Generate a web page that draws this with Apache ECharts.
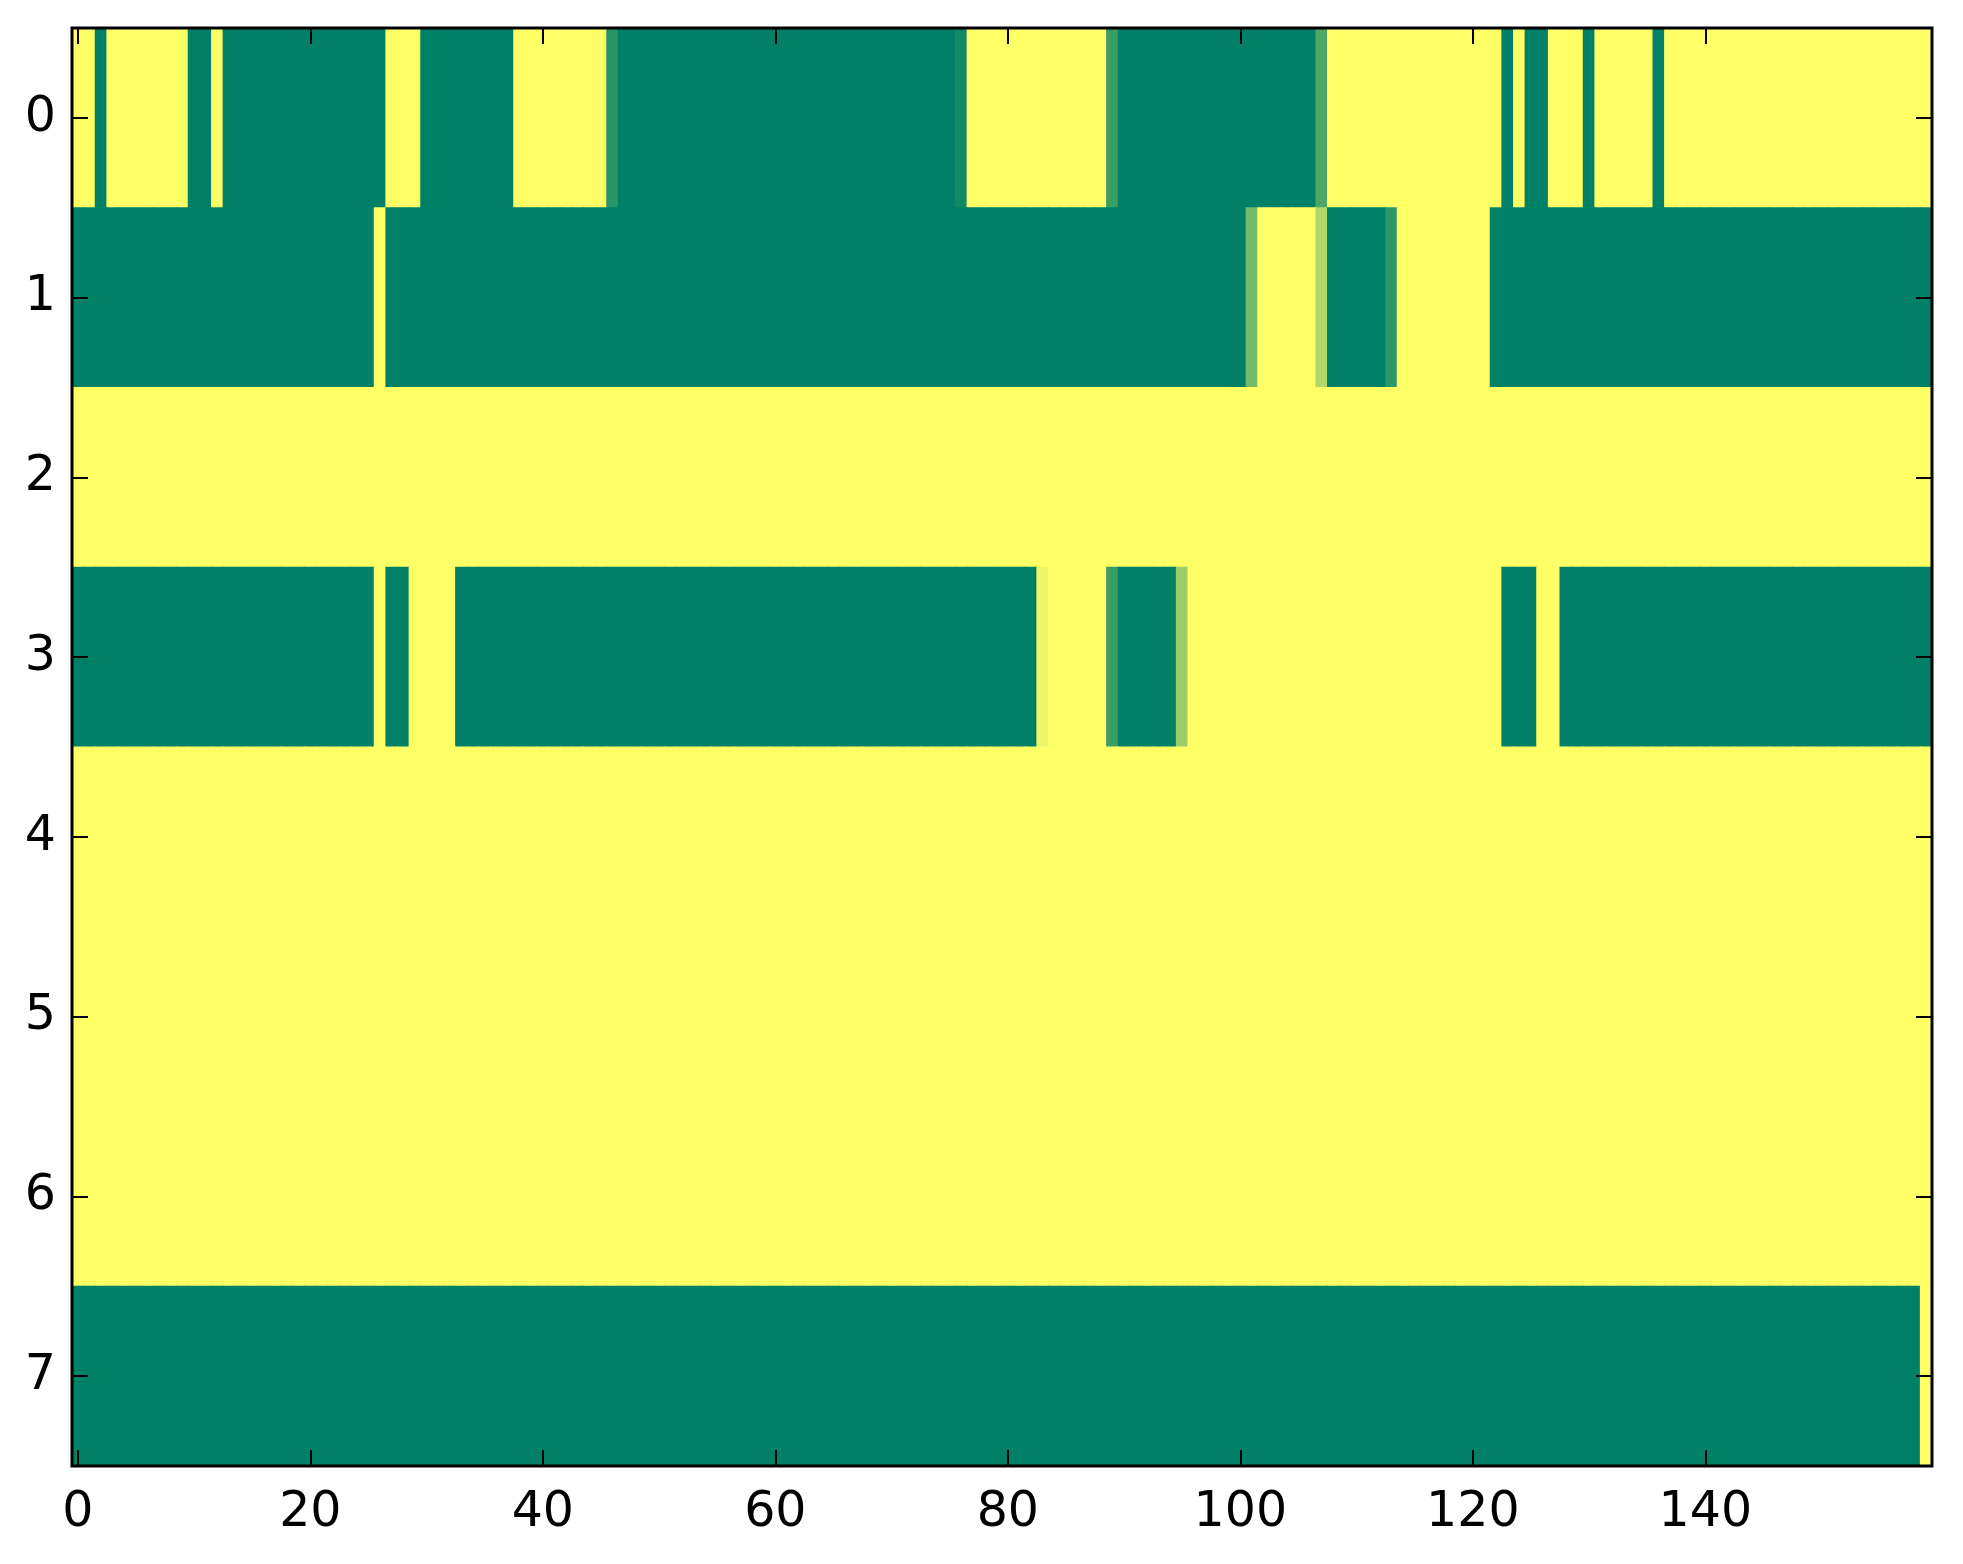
<!DOCTYPE html>
<html><head><meta charset="utf-8">
<script src="https://cdn.jsdelivr.net/npm/echarts@6/dist/echarts.min.js"></script>
<style>html,body{margin:0;padding:0;background:#fff}#c{width:1963px;height:1564px}</style>
</head><body><div id="c"></div>
<script>
// x categories: column indices 0..159
const xCategories = Array.from({length: 160}, (_, i) => String(i));
const rowLabels = ['0', '1', '2', '3', '4', '5', '6', '7'];
const xTickLabels = ['0', '20', '40', '60', '80', '100', '120', '140'];

// Each row written as runs: [value, number of consecutive columns]
const row0Runs = [[1,2],[0,1],[1,7],[0,2],[1,1],[0,14],[1,3],[0,8],[1,8],[0.16,1],[0,29],[0.07,1],[1,12],[0.23,1],[0,17],[0.31,1],[1,15],[0,1],[1,1],[0,2],[1,3],[0,1],[1,5],[0,1],[1,23]];
const row1Runs = [[0,26],[1,1],[0,74],[0.45,1],[1,5],[0.69,1],[0,5],[0.17,1],[1,8],[0,38]];
const row2Runs = [[1,160]];
const row3Runs = [[0,26],[1,1],[0,2],[1,4],[0,50],[0.93,1],[1,5],[0.23,1],[0,5],[0.61,1],[1,27],[0,3],[1,2],[0,32]];
const row4Runs = [[1,160]];
const row5Runs = [[1,160]];
const row6Runs = [[1,160]];
const row7Runs = [[0,159],[1,1]];

function expand(runs) {
  const out = [];
  runs.forEach(([v, n]) => { for (let i = 0; i < n; i++) out.push(v); });
  return out;
}
const rows = [row0Runs, row1Runs, row2Runs, row3Runs, row4Runs, row5Runs, row6Runs, row7Runs].map(expand);
const data = [];
rows.forEach((r, y) => r.forEach((v, x) => data.push([x, y, v])));

const FONT = 'DejaVu Sans';
const tickFn = (i, v) => xTickLabels.indexOf(String(v)) >= 0;

function xAxisDef(pos, labels) {
  return {
    type: 'category', data: xCategories, position: pos, boundaryGap: true, z: 10,
    axisLine: {show: false},
    axisTick: {show: true, inside: true, length: 16, alignWithLabel: true, interval: tickFn,
               lineStyle: {color: '#000', width: 2}},
    axisLabel: {show: labels, interval: tickFn, fontSize: 49, color: '#000', fontFamily: FONT, margin: 23},
    splitLine: {show: false}
  };
}
function yAxisDef(pos, labels) {
  return {
    type: 'category', data: rowLabels, position: pos, inverse: true, boundaryGap: true, z: 10,
    axisLine: {show: false},
    axisTick: {show: true, inside: true, length: 16, alignWithLabel: true,
               lineStyle: {color: '#000', width: 2}},
    axisLabel: {show: labels, fontSize: 49, color: '#000', fontFamily: FONT, margin: 16},
    splitLine: {show: false}
  };
}

function renderCell(params, api) {
  const c = api.coord([api.value(0), api.value(1)]);
  const s = api.size([1, 1]);
  return {
    type: 'rect',
    shape: {x: c[0] - s[0] / 2 - 0.5, y: c[1] - s[1] / 2 - 0.5, width: s[0] + 1, height: s[1] + 1},
    style: {fill: api.visual('color')}
  };
}

const chart = echarts.init(document.getElementById('c'), null, {renderer: 'canvas'});
chart.setOption({
  animation: false,
  backgroundColor: '#ffffff',
  grid: {left: 72, right: 31, top: 28, bottom: 98, show: true, z: 12,
         borderColor: '#000', borderWidth: 3, backgroundColor: 'transparent'},
  xAxis: [xAxisDef('bottom', true), xAxisDef('top', false)],
  yAxis: [yAxisDef('left', true), yAxisDef('right', false)],
  visualMap: {type: 'continuous', min: 0, max: 1, show: false, dimension: 2,
              inRange: {color: ['#008066', '#ffff66']}},
  series: [{
    type: 'custom', xAxisIndex: 0, yAxisIndex: 0, data: data,
    renderItem: renderCell,
    clip: true,
    encode: {x: 0, y: 1},
    emphasis: {disabled: true},
    progressive: 0
  }]
});
</script></body></html>
